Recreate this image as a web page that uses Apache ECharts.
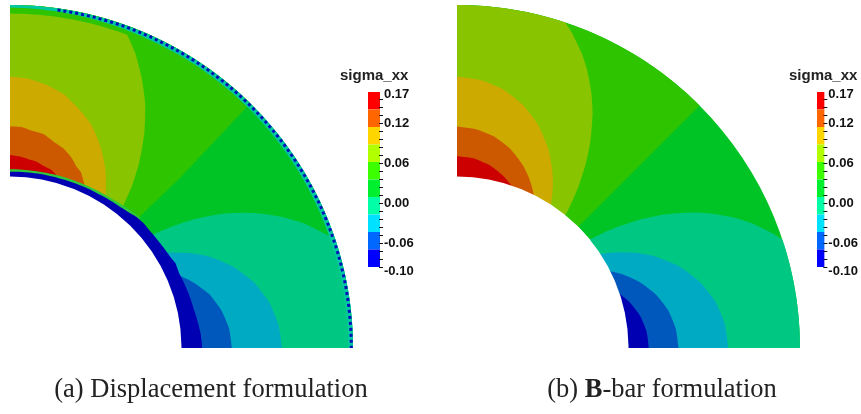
<!DOCTYPE html>
<html>
<head>
<meta charset="utf-8">
<script src="https://cdn.jsdelivr.net/npm/echarts@6/dist/echarts.min.js"></script>
<style>
html, body { margin: 0; padding: 0; background: #fff; }
#main { width: 861px; height: 414px; }
</style>
</head>
<body>
<div id="main"></div>
<script>
// colour scale of sigma_xx, top (max) to bottom (min)
var bandEdges = [0.1671, 0.1408, 0.1145, 0.0881, 0.0618, 0.0355, 0.0092, -0.0171, -0.0435, -0.0698, -0.0961];
var barColors = ['#ff0000', '#ff6600', '#ffd500', '#b2ff00', '#3cff00', '#00f030', '#00ffa6', '#00e0ff', '#0068ff', '#0000ff'];
var plotColors = ['#cc0000', '#cc5800', '#ccaa00', '#88c400', '#2ec500', '#00c425', '#00c882', '#00aac2', '#0058bd', '#0000b2'];
var tickValues = [-0.096, -0.084, -0.072, -0.06, -0.048, -0.036, -0.024, -0.012, 0, 0.012, 0.024, 0.036,
    0.048, 0.06, 0.072, 0.084, 0.096, 0.108, 0.12, 0.132, 0.144, 0.156];
var labelValues = [0.1671, 0.12, 0.06, 0, -0.06, -0.0961];

var INNER = 1, OUTER = 2;

// contour lines, [angle in degrees, radius]
// (b) B-bar
var bbarRed = [[90, 1.118], [85, 1.110], [80, 1.084], [75, 1.040], [71.6, 1.0]];
var bbarOrange = [[90, 1.291], [85, 1.281], [80, 1.252], [75, 1.202], [70, 1.130], [67, 1.076], [65, 1.035], [63.4, 1.0]];
var bbarGold = [[90, 1.581], [85, 1.569], [80, 1.533], [75, 1.471], [70, 1.384], [65, 1.268], [62, 1.182], [60, 1.118], [58, 1.047], [56.8, 1.0]];
var bbarYellowGreen = [[90, 2], [71.6, 2], [70, 1.957], [67, 1.864], [65, 1.793], [62, 1.672], [60, 1.581], [57, 1.426], [55, 1.308], [53, 1.174], [52, 1.100], [51, 1.020], [50.8, 1.0]];
var bbarGreen = [[90, 2], [45, 2], [45, 1]];
var bbarAqua = [[0, 2], [18.4, 2], [20, 1.957], [23, 1.864], [25, 1.793], [28, 1.672], [30, 1.581], [33, 1.426], [35, 1.308], [37, 1.174], [38, 1.100], [39, 1.020], [39.2, 1.0]];
var bbarCyan = [[0, 1.581], [5, 1.569], [10, 1.533], [15, 1.471], [20, 1.384], [25, 1.268], [28, 1.182], [30, 1.118], [32, 1.047], [33.2, 1.0]];
var bbarBlue = [[0, 1.291], [5, 1.281], [10, 1.252], [15, 1.202], [20, 1.130], [23, 1.076], [25, 1.035], [26.6, 1.0]];
var bbarDarkBlue = [[0, 1.118], [5, 1.110], [10, 1.084], [15, 1.040], [18.4, 1.0]];

// (a) displacement
var dispRed = [[90, 1.125], [87, 1.118], [84, 1.104], [82, 1.098], [80, 1.082], [77, 1.066], [75, 1.045], [72, 1.01], [71.5, 1.0]];
var dispOrange = [[90, 1.292], [87, 1.290], [84, 1.272], [81, 1.262], [78, 1.228], [75, 1.205], [72, 1.165], [70, 1.128], [68, 1.105], [66, 1.058], [64, 1.02], [63.3, 1.0]];
var dispGold = [[90, 1.582], [86, 1.574], [82, 1.548], [78, 1.512], [74, 1.452], [70, 1.386], [66, 1.292], [62, 1.184], [59, 1.085], [57, 1.02], [56.7, 1.0]];
var dispYellowGreen = [[90, 2], [70.5, 2], [69.5, 1.95], [67, 1.868], [64, 1.752], [61, 1.626], [58, 1.478], [55, 1.31], [53, 1.18], [51.5, 1.06], [51, 1.0]];
var dispGreen = [[90, 2], [45.5, 2], [45, 1.4], [45.5, 1]];
var dispAqua = [[0, 2], [18.6, 2], [20, 1.95], [23, 1.86], [26, 1.75], [29, 1.625], [32, 1.48], [35, 1.31], [37, 1.17], [38.5, 1.06], [39, 1.0]];
var dispCyan = [[0, 1.585], [5, 1.572], [10, 1.535], [15, 1.474], [20, 1.386], [25, 1.27], [28, 1.18], [31, 1.08], [33, 1.0]];
var dispBlue = [[0, 1.293], [5, 1.283], [10, 1.253], [15, 1.205], [20, 1.13], [23, 1.078], [25, 1.035], [26.6, 1.0]];
var dispDarkBlue = [[0, 1.12], [5, 1.11], [10, 1.085], [15, 1.04], [18.4, 1.0]];
var dispInnerLine = [[44, 1.0], [45, 1.075], [50, 1.064], [55, 1.054], [60, 1.05], [65, 1.047], [70, 1.045], [75, 1.044], [80, 1.042], [85, 1.042], [90, 1.043]];
var dispInnerBlue = [[0, 1.12], [4, 1.115], [8, 1.105], [12, 1.095], [16, 1.09], [20, 1.084], [24, 1.078], [27, 1.084], [30, 1.074], [33, 1.07],
    [36, 1.066], [40, 1.064], [43, 1.066], [46, 1.062], [49, 1.05], [52, 1.044], [56, 1.04], [60, 1.036], [65, 1.034], [70, 1.032],
    [75, 1.03], [80, 1.03], [85, 1.029], [90, 1.028]];
var dispOuterGreen = [[66, 1.95], [90, 1.95], [90, 2], [66, 2]];
var dispOuterAqua = [[0, 1.972], [66, 1.972], [90, 1.985], [90, 2], [0, 2]];
var dispDots = [0, 82, 1.99];

var bbarLayers = [
    { kind: 'base', band: 5 },
    { kind: 'fan', band: 4, pts: bbarGreen },
    { kind: 'fan', band: 3, pts: bbarYellowGreen },
    { kind: 'fan', band: 2, pts: bbarGold },
    { kind: 'fan', band: 1, pts: bbarOrange },
    { kind: 'fan', band: 0, pts: bbarRed },
    { kind: 'fan', band: 6, pts: bbarAqua },
    { kind: 'fan', band: 7, pts: bbarCyan },
    { kind: 'fan', band: 8, pts: bbarBlue },
    { kind: 'fan', band: 9, pts: bbarDarkBlue },
    { kind: 'hole' }
];
var dispLayers = [
    { kind: 'base', band: 5 },
    { kind: 'fan', band: 4, pts: dispGreen },
    { kind: 'fan', band: 3, pts: dispYellowGreen },
    { kind: 'fan', band: 2, pts: dispGold },
    { kind: 'fan', band: 1, pts: dispOrange },
    { kind: 'fan', band: 0, pts: dispRed },
    { kind: 'fan', band: 6, pts: dispAqua },
    { kind: 'fan', band: 7, pts: dispCyan },
    { kind: 'fan', band: 8, pts: dispBlue },
    { kind: 'fan', band: 9, pts: dispDarkBlue },
    { kind: 'fan', color: '#2ec83c', pts: dispInnerLine },
    { kind: 'fan', band: 9, pts: dispInnerBlue },
    { kind: 'hole' },
    { kind: 'poly', band: 4, pts: dispOuterGreen },
    { kind: 'poly', color: '#00c8a0', pts: dispOuterAqua },
    { kind: 'dots', arc: dispDots }
];

// polar points, segments followed in (angle, radius) space
function polarPoints(api, pts, fan) {
    var out = [];
    if (fan) out.push(api.coord([0, 0]));
    for (var i = 0; i < pts.length; i++) {
        if (i > 0) {
            var a = pts[i - 1], b = pts[i];
            var n = Math.ceil(Math.abs(b[0] - a[0]));
            for (var k = 1; k < n; k++) {
                var t = k / n;
                out.push(api.coord([a[1] + (b[1] - a[1]) * t, a[0] + (b[0] - a[0]) * t]));
            }
        }
        out.push(api.coord([pts[i][1], pts[i][0]]));
    }
    return out;
}

function makeRender(layers) {
    return function (params, api) {
        var L = layers[params.dataIndex];
        var c = api.coord([0, 0]);
        var rIn = api.coord([INNER, 0])[0] - c[0];
        var rOut = api.coord([OUTER, 0])[0] - c[0];
        var fill = L.color || plotColors[L.band];
        if (L.kind === 'base') {
            return { type: 'sector', z2: params.dataIndex,
                shape: { cx: c[0], cy: c[1], r0: rIn, r: rOut, startAngle: -Math.PI / 2, endAngle: 0 },
                style: { fill: fill } };
        }
        if (L.kind === 'hole') {
            return { type: 'sector', z2: params.dataIndex,
                shape: { cx: c[0], cy: c[1], r0: 0, r: rIn, startAngle: -Math.PI / 2 - 0.01, endAngle: 0.01 },
                style: { fill: '#fff' } };
        }
        if (L.kind === 'dots') {
            var rd = api.coord([L.arc[2], 0])[0] - c[0];
            return { type: 'arc', z2: params.dataIndex,
                shape: { cx: c[0], cy: c[1], r: rd, startAngle: -L.arc[1] * Math.PI / 180, endAngle: -L.arc[0] * Math.PI / 180 },
                style: { stroke: '#0010b8', lineWidth: 3, lineDash: [3, 3], fill: null } };
        }
        return { type: 'polygon', z2: params.dataIndex,
            shape: { points: polarPoints(api, L.pts, L.kind === 'fan') },
            style: { fill: fill } };
    };
}

function renderBar(params, api) {
    var i = params.dataIndex;
    var a = api.coord([0, bandEdges[i]]);
    var b = api.coord([1, bandEdges[i + 1]]);
    return { type: 'rect', shape: { x: a[0], y: a[1], width: b[0] - a[0], height: b[1] - a[1] },
        style: { fill: barColors[i] } };
}

// small tick dashes on the right edge of the colour bar
function renderTick(params, api) {
    var p = api.coord([1, api.value(1)]);
    var y = Math.round(p[1]) + 0.5;
    return { type: 'line', shape: { x1: p[0] - 1, y1: y, x2: p[0] + 3, y2: y },
        style: { stroke: '#111', lineWidth: 1 } };
}

function layerData(layers) {
    return layers.map(function () { return [0, 0]; });
}

var hidden = { show: false };
var angleAxisOpt = function (idx) {
    return { polarIndex: idx, type: 'value', min: 0, max: 360, startAngle: 0, clockwise: false,
        axisLine: hidden, axisTick: hidden, axisLabel: hidden, splitLine: hidden };
};
var radiusAxisOpt = function (idx) {
    return { polarIndex: idx, type: 'value', min: 0, max: 2,
        axisLine: hidden, axisTick: hidden, axisLabel: hidden, splitLine: hidden };
};
var barYAxis = function (idx) {
    return {
        gridIndex: idx, type: 'value', position: 'right', min: -0.0961, max: 0.1671,
        splitLine: hidden, axisLine: hidden, axisTick: hidden,
        axisLabel: {
            customValues: labelValues, margin: 4, color: '#111', fontSize: 13, fontWeight: 'bold',
            fontFamily: 'Liberation Sans',
            formatter: function (v) {
                if (v === labelValues[0]) return '{top|' + v.toFixed(2) + '}';
                if (v === labelValues[labelValues.length - 1]) return '{bot|' + v.toFixed(2) + '}';
                return v.toFixed(2);
            },
            rich: {
                top: { fontSize: 13, fontWeight: 'bold', fontFamily: 'Liberation Sans', color: '#111', padding: [4, 0, 0, 0] },
                bot: { fontSize: 13, fontWeight: 'bold', fontFamily: 'Liberation Sans', color: '#111', padding: [8, 0, 0, 0] }
            }
        }
    };
};

var barData = barColors.map(function (c, i) { return [0, bandEdges[i]]; });
var tickData = tickValues.map(function (v) { return [1, v]; });

var chart = echarts.init(document.getElementById('main'));
chart.setOption({
    animation: false,
    polar: [
        { center: [10, 348], radius: 343 },
        { center: [457, 348], radius: 343 }
    ],
    angleAxis: [angleAxisOpt(0), angleAxisOpt(1)],
    radiusAxis: [radiusAxisOpt(0), radiusAxisOpt(1)],
    grid: [
        { left: 368, top: 92, width: 12, height: 175 },
        { left: 817, top: 92, width: 12, height: 175 }
    ],
    xAxis: [
        { gridIndex: 0, type: 'value', min: 0, max: 1, show: false },
        { gridIndex: 1, type: 'value', min: 0, max: 1, show: false }
    ],
    yAxis: [barYAxis(0), barYAxis(1)],
    series: [
        { type: 'custom', coordinateSystem: 'polar', polarIndex: 0, silent: true,
            renderItem: makeRender(dispLayers), data: layerData(dispLayers) },
        { type: 'custom', coordinateSystem: 'polar', polarIndex: 1, silent: true,
            renderItem: makeRender(bbarLayers), data: layerData(bbarLayers) },
        { type: 'custom', xAxisIndex: 0, yAxisIndex: 0, silent: true, renderItem: renderBar, data: barData },
        { type: 'custom', xAxisIndex: 1, yAxisIndex: 1, silent: true, renderItem: renderBar, data: barData },
        { type: 'custom', xAxisIndex: 0, yAxisIndex: 0, silent: true, renderItem: renderTick, data: tickData, z: 3 },
        { type: 'custom', xAxisIndex: 1, yAxisIndex: 1, silent: true, renderItem: renderTick, data: tickData, z: 3 }
    ],
    graphic: [
        { type: 'text', x: 340, y: 76, style: { text: 'sigma_xx', fontFamily: 'Liberation Sans', fontWeight: 'bold',
            fontSize: 15, fill: '#222', verticalAlign: 'middle' } },
        { type: 'text', x: 789, y: 76, style: { text: 'sigma_xx', fontFamily: 'Liberation Sans', fontWeight: 'bold',
            fontSize: 15, fill: '#222', verticalAlign: 'middle' } },
        { type: 'text', x: 211, y: 390, style: { text: '(a) Displacement formulation', fontFamily: 'Liberation Serif',
            fontSize: 26.5, fill: '#222', align: 'center', verticalAlign: 'middle' } },
        { type: 'text', x: 662, y: 390, style: { text: '(b) {b|B}-bar formulation', fontFamily: 'Liberation Serif',
            fontSize: 26.5, fill: '#222', align: 'center', verticalAlign: 'middle',
            rich: { b: { fontFamily: 'Liberation Serif', fontWeight: 'bold', fontSize: 26.5, fill: '#222' } } } }
    ]
});
</script>
</body>
</html>
